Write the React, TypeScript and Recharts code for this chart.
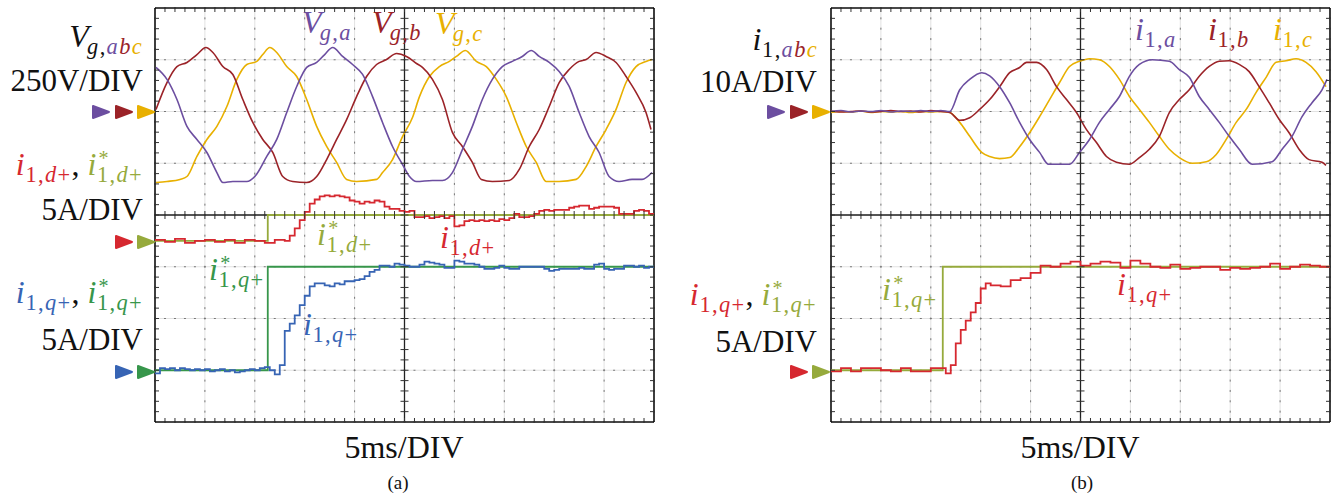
import React from "react";
import {
  ComposedChart,
  Line,
  Scatter,
  XAxis,
  YAxis,
  CartesianGrid,
  ReferenceLine,
} from "recharts";

type Pair = [number, number];

// panel (a): grid voltages [t (ms), V]
const vga: Pair[] = [[0.1,213],[1.2,155],[2.2,58],[3.2,-72],[4.2,-135],[5.2,-198],[6.2,-295],[6.8,-343],[7.8,-338],[9.2,-338],[10,-314],[11.2,-217],[12.2,-135],[13.2,-5],[14.2,121],[15.2,213],[16.2,237],[17,275],[17.8,309],[18.8,266],[19.8,227],[20.8,179],[21.8,72],[22.8,-53],[23.8,-169],[24.8,-256],[25.5,-314],[26.2,-338],[27.8,-333],[28.8,-333],[29.8,-295],[30.8,-184],[31.8,-72],[32.8,58],[33.8,155],[34.8,217],[35.8,242],[36.8,266],[37.7,295],[38.5,266],[39.5,237],[40.5,193],[41.5,121],[42.5,-5],[43.5,-121],[44.5,-198],[45.5,-314],[46.5,-338],[47.8,-328],[48.8,-328],[49.8,-295]];
const vgb: Pair[] = [[0.1,10],[1.2,140],[2.2,217],[3.2,237],[4.2,275],[5.1,309],[5.8,285],[6.8,217],[7.8,179],[8.8,58],[9.8,-53],[10.8,-135],[11.8,-198],[12.8,-314],[13.8,-338],[15.2,-343],[16.2,-314],[17.2,-232],[18.2,-135],[19.2,-39],[20.2,72],[21.2,169],[22.2,227],[23.2,251],[24.2,280],[25.2,266],[26.2,232],[26.8,213],[27.8,155],[28.8,58],[29.8,-101],[30.8,-169],[31.8,-246],[32.7,-328],[33.8,-338],[35.5,-333],[36.5,-280],[37.5,-169],[38.5,-87],[39.5,24],[40.5,140],[41.5,203],[42.5,242],[43.2,251],[44.2,285],[45.2,266],[46.2,237],[47.2,169],[48.2,92],[49.2,-5],[49.7,-87]];
const vgc: Pair[] = [[0.1,-343],[1.2,-338],[2.5,-328],[3.2,-314],[4.2,-217],[5.2,-135],[6.2,-72],[7.2,24],[8.2,155],[9.2,227],[10.2,242],[10.8,275],[11.5,309],[12.2,285],[13.2,217],[14.2,169],[15.2,58],[16.2,-72],[17.2,-169],[18.2,-246],[19.2,-328],[20.2,-338],[22.2,-328],[22.8,-295],[23.8,-232],[24.8,-121],[25.8,-29],[26.5,72],[27.5,169],[28.5,217],[29.5,242],[30.2,266],[31.1,295],[32.2,242],[33.2,217],[34.2,155],[35.2,72],[36.2,-53],[37.2,-169],[38.2,-246],[39.2,-338],[40.5,-338],[42.2,-328],[43.2,-266],[44.2,-169],[45.2,-87],[46.2,10],[47.2,140],[48.2,217],[49.2,242],[49.8,251]];

// panel (a): dq currents [t (ms), A]
const idA: Pair[] = [[0,0.1],[1,-0.1],[2,0.2],[3,-0.2],[4,0],[5,0.1],[6,-0.1],[7,0.1],[8,-0.2],[9,0.1],[10,0],[11,-0.2],[12,0.1],[13,0],[13.5,0.5],[14,1.2],[14.5,2.0],[15,2.8],[15.5,3.6],[16,4.0],[16.5,4.3],[17,4.4],[17.5,4.3],[18,4.4],[18.5,4.3],[19,4.2],[19.5,3.9],[20,3.8],[20.5,3.6],[21,3.8],[21.5,3.7],[22,3.9],[22.5,3.8],[23,3.3],[23.5,3.1],[24,3.1],[24.5,2.9],[25,2.8],[25.5,2.9],[26,2.3],[26.5,2.3],[27,2.4],[27.5,2.2],[28,2.3],[28.5,2.4],[29,2.2],[29.5,2.4],[30,1.4],[30.5,1.5],[31,1.9],[31.5,2.0],[32,1.9],[32.5,2.0],[33,1.9],[33.5,2.0],[34,1.9],[34.5,2.1],[35,2.0],[35.5,2.2],[36,2.6],[36.5,2.3],[37,2.3],[37.5,2.4],[38,2.6],[38.5,2.9],[39,3.0],[39.5,2.9],[40,3.0],[40.5,3.0],[41,3.0],[41.5,3.2],[42,3.3],[42.5,3.4],[43,3.4],[43.5,3.1],[44,3.2],[44.5,3.3],[45,3.3],[45.5,3.3],[46,3.2],[46.5,2.6],[47,2.6],[47.5,2.6],[48,2.9],[48.5,3.0],[49,2.9],[49.5,2.6],[50,2.6]];
const idRefA: Pair[] = [[0,0],[11.3,2.5],[50,2.5]];
const iqA: Pair[] = [[0,-0.3],[0.5,0.2],[1,0.1],[1.5,0.2],[2,0],[2.5,0.2],[3,0.1],[3.5,0],[4,0.1],[4.5,0],[5,0.1],[5.5,-0.1],[6,0],[6.5,0.1],[7,-0.1],[7.5,0],[8,-0.2],[8.5,-0.1],[9,0],[9.5,0.1],[10,0],[10.5,0.2],[11,0.3],[11.5,0],[12,-0.4],[12.5,0.5],[13,3.8],[13.5,4.5],[14,5.3],[14.5,6.3],[15,7.2],[15.5,8.1],[16,8.4],[16.5,8.4],[17,8.2],[17.5,8.1],[18,8.4],[18.5,8.3],[19,8.6],[19.5,8.6],[20,8.7],[20.5,8.8],[21,9.1],[21.5,9.5],[22,9.7],[22.5,10.1],[23,10.1],[23.5,10.0],[24,10.3],[24.5,10.2],[25,10.1],[25.5,10.0],[26,10.0],[26.5,10.2],[27,10.5],[27.5,10.4],[28,10.3],[28.5,10.2],[29,9.9],[29.5,9.9],[30,10.6],[30.5,10.5],[31,10.3],[31.5,10.3],[32,10.2],[32.5,10.0],[33,9.8],[33.5,9.8],[34,9.9],[34.5,10.1],[35,9.9],[35.5,9.8],[36,9.8],[36.5,10.0],[37,10.0],[37.5,10.0],[38,10.0],[38.5,10.0],[39,9.8],[39.5,9.6],[40,9.7],[40.5,9.8],[41,9.8],[41.5,9.8],[42,9.8],[42.5,9.9],[43,9.8],[43.5,9.8],[44,10.2],[44.5,10.3],[45,9.8],[45.5,9.7],[46,9.8],[46.5,9.8],[47,10.1],[47.5,10.1],[48,10.0],[48.5,10.1],[49,9.9],[49.5,10.0],[50,10.0]];
const iqRefA: Pair[] = [[0,0],[11.3,10],[50,10]];

// panel (b): converter currents [t (ms), A]
const i1a: Pair[] = [[0,0],[1,0.2],[2,-0.1],[3,0.1],[4,0],[5,0.2],[6,-0.1],[7,0.1],[8,0],[9,0.2],[10,0],[11,0.2],[11.9,0],[12.9,4.2],[13.9,6.2],[15.1,7.5],[15.9,6.9],[16.9,4.8],[17.9,1.7],[18.9,-2.1],[19.9,-5.4],[20.9,-7.9],[21.8,-10.2],[23.9,-10.2],[24.9,-7.9],[25.9,-5.4],[26.9,-2.1],[27.9,0.4],[28.9,2.9],[29.9,6.8],[30.9,9.1],[32.2,10.0],[33.9,9.7],[34.9,8.1],[35.9,6.6],[36.9,2.9],[37.9,0.4],[38.9,-2.1],[39.9,-4.8],[40.9,-7.3],[42.2,-10.2],[44.2,-9.7],[45.2,-7.3],[46.2,-4.8],[47.2,-1.0],[48.2,1.7],[49.2,4.2],[49.7,6.2]];
const i1b: Pair[] = [[0,0.1],[1,-0.1],[2,0],[3,0.1],[4,-0.1],[5,0],[6,0.2],[7,0],[8,0.1],[9,-0.1],[10,0.2],[11,0],[11.9,-0.2],[12.9,-1.7],[13.9,-1.2],[14.9,0.4],[15.9,2.3],[16.9,4.8],[17.9,7.5],[18.9,8.5],[19.6,9.5],[20.6,9.5],[21.6,8.1],[22.6,4.8],[23.6,2.3],[24.6,-0.2],[25.6,-3.5],[26.6,-6.0],[27.6,-8.7],[28.6,-9.8],[29.9,-10.2],[30.9,-8.9],[31.9,-7.3],[32.9,-4.8],[33.9,-0.2],[34.9,2.3],[35.9,4.2],[36.9,6.8],[37.9,8.7],[38.9,9.7],[39.9,9.8],[40.9,9.1],[41.9,7.7],[42.9,4.8],[43.9,1.7],[44.9,-1.5],[45.9,-4.1],[46.9,-7.3],[47.9,-9.3],[49.2,-9.8],[49.6,-10.4]];
const i1c: Pair[] = [[0,-0.2],[1,0],[2,-0.1],[3,0.1],[4,-0.2],[5,0],[6,-0.1],[7,0],[8,-0.2],[9,0],[10,-0.1],[11,0],[11.9,-0.2],[12.9,-2.1],[13.9,-4.8],[15.1,-7.9],[15.9,-8.7],[16.9,-9.1],[17.9,-8.9],[18.9,-6.8],[19.9,-4.1],[20.9,-1.0],[21.9,2.3],[22.9,5.6],[23.9,8.7],[24.9,9.7],[25.9,10.2],[26.9,10.0],[27.9,8.7],[28.9,6.2],[29.9,2.9],[30.9,0.4],[31.9,-2.1],[32.9,-4.8],[33.9,-7.3],[34.9,-8.9],[36.2,-10.0],[37.6,-9.7],[38.6,-8.3],[39.6,-5.4],[40.6,-2.1],[41.6,0.4],[42.6,3.7],[43.6,6.6],[44.6,9.5],[45.6,9.8],[46.6,10.2],[47.6,9.5],[48.6,7.7],[49.6,4.8]];
const iqB: Pair[] = [[0,-0.1],[1,0.2],[2,-0.1],[3,0.2],[4,0.2],[5,0],[6,-0.1],[7,0.2],[8,-0.1],[9,-0.1],[10,0.2],[11,0.2],[11.5,-0.3],[12,0.5],[12.5,2.6],[13,3.9],[13.5,4.8],[14,5.6],[14.5,6.5],[15,7.9],[15.5,8.4],[16,8.2],[17,8.1],[18,8.7],[19,8.9],[20,9.4],[21,10.1],[22,10.0],[23,10.3],[24,10.5],[25,10.1],[26,10.3],[27,10.5],[28,10.4],[29,9.9],[30,10.6],[31,10.3],[32,10.0],[33,9.9],[34,10.2],[35,9.8],[36,9.9],[37,10.0],[38,10.0],[39,9.7],[40,9.9],[41,9.8],[42,9.9],[43,10.0],[44,10.3],[45,9.8],[46,10.0],[47,10.2],[48,10.1],[49,10.0],[50,10.0]];
const iqRefB: Pair[] = [[0,0],[11.2,10],[50,10]];

const X_MAJOR = [0, 5, 10, 15, 20, 25, 30, 35, 40, 45, 50];
const Y_MAJOR = [-4, -3, -2, -1, 0, 1, 2, 3, 4];

const PURPLE = "#6c4ea0";
const MAROON = "#9b2328";
const GOLD = "#e8b000";
const RED = "#d62830";
const OLIVE = "#96aa3c";
const BLUE = "#3764b4";
const GREEN = "#37964b";
const INK = "#111";
const FONT = '"Liberation Serif", "DejaVu Serif", serif';

const W = 499;
const H = 414;
const TOP = 8;
const PAD = 12;

// screen position (divisions) = trace zero + value / (units per division)
const toDiv = (pairs: Pair[], zero: number, perDiv: number) =>
  pairs.map(([t, v]) => ({ t, y: zero + v / perDiv }));

const minorX = Array.from({ length: 49 }, (_, k) => k + 1);
const minorY = Array.from({ length: 39 }, (_, k) => -4 + 0.2 * (k + 1));

const tick = (x1: number, y1: number, x2: number, y2: number) => (p: any) =>
  <line x1={p.cx + x1} y1={p.cy + y1} x2={p.cx + x2} y2={p.cy + y2} stroke="#333" strokeWidth={1} />;

type Trace = { pts: { t: number; y: number }[]; color: string; step?: boolean; w?: number };

function Scope({ left, traces }: { left: number; traces: Trace[] }) {
  return (
    <div style={{ position: "absolute", left: left - PAD, top: TOP - PAD }}>
      <ComposedChart
        width={W + 2 * PAD}
        height={H + 2 * PAD}
        margin={{ top: PAD, right: PAD, bottom: PAD, left: PAD }}
      >
        <XAxis type="number" dataKey="t" domain={[0, 50]} ticks={X_MAJOR} hide allowDataOverflow />
        <YAxis type="number" dataKey="y" domain={[-4, 4]} ticks={Y_MAJOR} hide allowDataOverflow />
        <CartesianGrid stroke="#e2e2e2" />
        <CartesianGrid vertical={false} stroke="#777" strokeDasharray={`2 ${W / 50 - 2}`} strokeDashoffset={1} />
        <CartesianGrid horizontal={false} stroke="#777" strokeDasharray={`2 ${H / 40 - 2}`} strokeDashoffset={1} />
        <ReferenceLine x={25} stroke="#222" strokeWidth={1.3} />
        <ReferenceLine y={0} stroke="#222" strokeWidth={1.3} />
        <Scatter data={minorX.map((t) => ({ t, y: 0 }))} shape={tick(0, -4, 0, 4)} isAnimationActive={false} />
        <Scatter data={minorY.map((y) => ({ t: 25, y }))} shape={tick(-4, 0, 4, 0)} isAnimationActive={false} />
        <Scatter data={minorX.map((t) => ({ t, y: 4 }))} shape={tick(0, 0, 0, 4)} isAnimationActive={false} />
        <Scatter data={minorX.map((t) => ({ t, y: -4 }))} shape={tick(0, -4, 0, 0)} isAnimationActive={false} />
        <Scatter data={minorY.map((y) => ({ t: 0, y }))} shape={tick(0, 0, 4, 0)} isAnimationActive={false} />
        <Scatter data={minorY.map((y) => ({ t: 50, y }))} shape={tick(-4, 0, 0, 0)} isAnimationActive={false} />
        <ReferenceLine x={0} stroke="#111" strokeWidth={1.6} />
        <ReferenceLine x={50} stroke="#111" strokeWidth={1.6} />
        <ReferenceLine y={4} stroke="#111" strokeWidth={1.6} />
        <ReferenceLine y={-4} stroke="#111" strokeWidth={1.6} />
        {traces.map((tr, k) => (
          <Line
            key={k}
            data={tr.pts}
            dataKey="y"
            type={tr.step ? "stepAfter" : "monotone"}
            stroke={tr.color}
            strokeWidth={tr.w ?? 1.6}
            dot={false}
            isAnimationActive={false}
          />
        ))}
      </ComposedChart>
    </div>
  );
}

function M({ b, s, star, color = INK, cols }: { b: string; s: string; star?: boolean; color?: string; cols?: (string | undefined)[] }) {
  return (
    <span style={{ color }}>
      <span style={{ fontStyle: "italic" }}>{b}</span>
      <span
        style={{
          position: "relative",
          display: "inline-block",
          fontSize: "0.7em",
          verticalAlign: "-0.32em",
          letterSpacing: "0.06em",
          marginLeft: b === "V" ? "-0.08em" : "0.03em",
        }}
      >
        {star && (
          <span style={{ position: "absolute", left: "0.08em", top: "-0.8em", fontSize: "0.9em" }}>*</span>
        )}
        {s.split("").map((c, k) => (
          <span key={k} style={{ fontStyle: /[a-z]/.test(c) ? "italic" : "normal", color: cols?.[k] }}>
            {c}
          </span>
        ))}
      </span>
    </span>
  );
}

function Txt({ x, y, anchor = "start", fs = 32, children }: { x: number; y: number; anchor?: string; fs?: number; children: React.ReactNode }) {
  const style: React.CSSProperties = {
    position: "absolute",
    top: y - 0.84 * fs,
    fontSize: fs,
    lineHeight: 1,
    whiteSpace: "nowrap",
    fontFamily: FONT,
    color: INK,
  };
  if (anchor === "end") style.right = 1334 - x;
  else if (anchor === "middle") {
    style.left = x;
    style.transform = "translateX(-50%)";
  } else style.left = x;
  return <div style={style}>{children}</div>;
}

const Tri = ({ x, y, c }: { x: number; y: number; c: string }) => (
  <polygon points={`${x},${y - 6} ${x + 16},${y} ${x},${y + 6}`} fill={c} stroke={c} strokeWidth={2} strokeLinejoin="round" />
);

const Comma = () => <span style={{ marginRight: "0.25em" }}>,</span>;

export default function App() {
  const tracesA: Trace[] = [
    { pts: toDiv(vgc, 2, 250), color: GOLD },
    { pts: toDiv(vgb, 2, 250), color: MAROON },
    { pts: toDiv(vga, 2, 250), color: PURPLE },
    { pts: toDiv(idRefA, -0.5, 5), color: OLIVE, step: true, w: 1.8 },
    { pts: toDiv(idA, -0.5, 5), color: RED, step: true, w: 1.8 },
    { pts: toDiv(iqRefA, -3, 5), color: GREEN, step: true, w: 1.8 },
    { pts: toDiv(iqA, -3, 5), color: BLUE, step: true, w: 1.8 },
  ];
  const tracesB: Trace[] = [
    { pts: toDiv(i1c, 2, 10), color: GOLD },
    { pts: toDiv(i1b, 2, 10), color: MAROON },
    { pts: toDiv(i1a, 2, 10), color: PURPLE },
    { pts: toDiv(iqRefB, -3, 5), color: OLIVE, step: true, w: 1.8 },
    { pts: toDiv(iqB, -3, 5), color: RED, step: true, w: 1.8 },
  ];
  return (
    <div style={{ position: "absolute", left: 0, top: 0, width: 1334, height: 499, background: "#fff", overflow: "hidden", fontFamily: FONT }}>
      <Scope left={155} traces={tracesA} />
      <Scope left={831} traces={tracesB} />

      <svg width={1334} height={499} style={{ position: "absolute", left: 0, top: 0 }}>
        <Tri x={93} y={112} c={PURPLE} />
        <Tri x={116} y={112} c={MAROON} />
        <Tri x={138} y={112} c={GOLD} />
        <Tri x={116} y={242} c={RED} />
        <Tri x={138} y={242} c={OLIVE} />
        <Tri x={116} y={372} c={BLUE} />
        <Tri x={138} y={372} c={GREEN} />
        <Tri x={768} y={112} c={PURPLE} />
        <Tri x={791} y={112} c={MAROON} />
        <Tri x={813} y={112} c={GOLD} />
        <Tri x={791} y={372} c={RED} />
        <Tri x={813} y={372} c={OLIVE} />
      </svg>

      {/* panel (a) side labels */}
      <Txt x={143} y={47} anchor="end"><M b="V" s="g,abc" cols={[undefined, undefined, PURPLE, MAROON, GOLD]} /></Txt>
      <Txt x={143} y={91} anchor="end" fs={31}>250V/DIV</Txt>
      <Txt x={143} y={175} anchor="end"><M b="i" s="1,d+" color={RED} /><Comma /><M b="i" s="1,d+" star color={OLIVE} /></Txt>
      <Txt x={143} y={220} anchor="end" fs={31}>5A/DIV</Txt>
      <Txt x={143} y={303} anchor="end"><M b="i" s="1,q+" color={BLUE} /><Comma /><M b="i" s="1,q+" star color={GREEN} /></Txt>
      <Txt x={143} y={350} anchor="end" fs={31}>5A/DIV</Txt>
      <Txt x={404} y={458} anchor="middle">5ms/DIV</Txt>
      <Txt x={398} y={489} anchor="middle" fs={19}>(a)</Txt>

      {/* panel (a) trace labels */}
      <Txt x={302} y={33}><M b="V" s="g,a" color={PURPLE} /></Txt>
      <Txt x={372} y={33}><M b="V" s="g,b" color={MAROON} /></Txt>
      <Txt x={435} y={34}><M b="V" s="g,c" color={GOLD} /></Txt>
      <Txt x={317} y={245}><M b="i" s="1,d+" star color={OLIVE} /></Txt>
      <Txt x={440} y={248}><M b="i" s="1,d+" color={RED} /></Txt>
      <Txt x={209} y={280}><M b="i" s="1,q+" star color={GREEN} /></Txt>
      <Txt x={303} y={335}><M b="i" s="1,q+" color={BLUE} /></Txt>

      {/* panel (b) side labels */}
      <Txt x={818} y={50} anchor="end"><M b="i" s="1,abc" cols={[undefined, undefined, PURPLE, MAROON, GOLD]} /></Txt>
      <Txt x={817} y={92} anchor="end" fs={31}>10A/DIV</Txt>
      <Txt x={817} y={305} anchor="end"><M b="i" s="1,q+" color={RED} /><Comma /><M b="i" s="1,q+" star color={OLIVE} /></Txt>
      <Txt x={817} y={352} anchor="end" fs={31}>5A/DIV</Txt>
      <Txt x={1080} y={458} anchor="middle">5ms/DIV</Txt>
      <Txt x={1082} y={489} anchor="middle" fs={19}>(b)</Txt>

      {/* panel (b) trace labels */}
      <Txt x={1135} y={40}><M b="i" s="1,a" color={PURPLE} /></Txt>
      <Txt x={1208} y={40}><M b="i" s="1,b" color={MAROON} /></Txt>
      <Txt x={1273} y={40}><M b="i" s="1,c" color={GOLD} /></Txt>
      <Txt x={882} y={300}><M b="i" s="1,q+" star color={OLIVE} /></Txt>
      <Txt x={1117} y={295}><M b="i" s="1,q+" color={RED} /></Txt>
    </div>
  );
}
